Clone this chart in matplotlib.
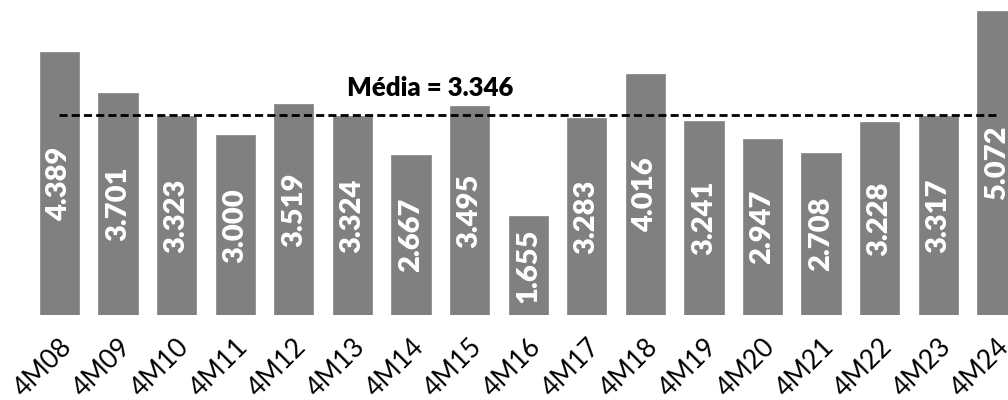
import numpy as np
import matplotlib.pyplot as plt

labels = ["4M08", "4M09", "4M10", "4M11", "4M12", "4M13", "4M14", "4M15", "4M16",
          "4M17", "4M18", "4M19", "4M20", "4M21", "4M22", "4M23", "4M24"]
values = [4.389, 3.701, 3.323, 3.000, 3.519, 3.324, 2.667, 3.495, 1.655,
          3.283, 4.016, 3.241, 2.947, 2.708, 3.228, 3.317, 5.072]
mean_value = 3.346

fig = plt.figure(figsize=(10.08, 4.0), dpi=100)
ax = fig.add_axes([0, 0.2125, 1, 0.7875])

x = np.arange(len(labels))
ax.bar(x, values, width=0.67, color="#808080", edgecolor="#8c8c8c", linewidth=0.6)

for xi, v in zip(x, values):
    ax.text(xi, v / 2, f"{v:.3f}", rotation=90, ha="center", va="center",
            color="white", fontsize=21, fontweight="heavy", family="Lato")

# mean line from first to last bar center
ax.plot([x[0], x[-1]], [mean_value, mean_value], color="black", lw=2,
        linestyle=(0, (2.9, 1.5)))
ax.text(6.32, mean_value + 0.45, f"Média = {mean_value:.3f}", ha="center", va="center",
        fontsize=18.5, fontweight="heavy", family="Lato", color="black")

ax.set_xlim(-1.015, 16.19)
ax.set_ylim(0, 5.26)
ax.set_xticks(x)
ax.set_xticklabels(labels, rotation=45, ha="right", rotation_mode="anchor",
                   fontsize=19, family="Lato", color="black")
ax.tick_params(axis="x", length=0, pad=14)
ax.set_yticks([])
for s in ax.spines.values():
    s.set_visible(False)

plt.savefig("out.png", dpi=100)
